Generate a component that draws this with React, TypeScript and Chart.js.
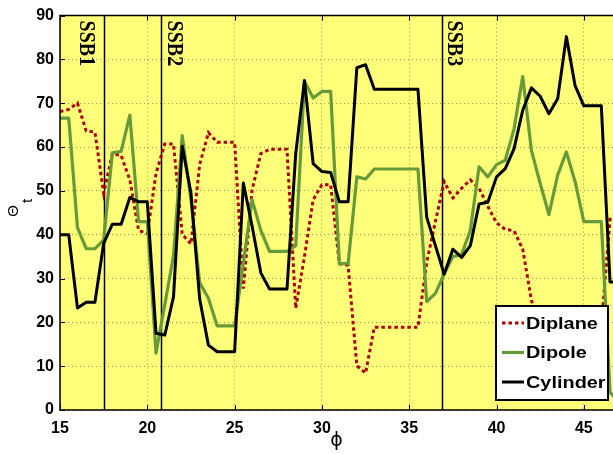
import React, { useEffect, useRef } from "react";
import { Chart, registerables } from "chart.js";

Chart.register(...registerables);

// ---- data ----
const phi = [
  15, 15.5, 16, 16.5, 17, 17.5, 18, 18.5, 19, 19.5,
  20, 20.5, 21, 21.5, 22, 22.5, 23, 23.5, 24, 24.5,
  25, 25.5, 26, 26.5, 27, 27.5, 28, 28.5, 29, 29.5,
  30, 30.5, 31, 31.5, 32, 32.5, 33, 33.5, 34, 34.5,
  35, 35.5, 36, 36.5, 37, 37.5, 38, 38.5, 39, 39.5,
  40, 40.5, 41, 41.5, 42, 42.5, 43, 43.5, 44, 44.5,
  45, 45.5, 46, 46.5, 47,
];

const diplane = [
  68.1, 68.6, 70, 63.7, 63.4, 49.5, 58.5, 58.1, 52.5, 41,
  40.2, 54, 60.7, 60.7, 40.1, 37.9, 56, 63.3, 61.1, 61.1,
  61.1, 27.7, 50.2, 58.5, 59.5, 59.5, 59.5, 23.2, 35, 48,
  51.4, 51.4, 33.4, 33, 10.1, 8.4, 18.9, 18.9, 18.9, 18.9,
  18.9, 18.9, 33.7, 43, 52.1, 48.4, 50.6, 52.5, 50.6, 46.5,
  42.7, 41.2, 40.9, 36.7, 25, 19, 19, 19, 19, 19,
  19, 19, 19, 43.5, 43.5,
];

const dipole = [
  66.6, 66.6, 41.6, 36.8, 36.8, 38.8, 58.7, 59, 67.3, 43,
  43, 13, 24, 35.2, 62.6, 48, 29, 25.5, 19.2, 19.2,
  19.2, 33.5, 48, 41, 36.2, 36.2, 36.2, 37.5, 75, 71.2,
  72.7, 72.7, 33.4, 33.4, 53.2, 52.7, 55, 55, 55, 55,
  55, 55, 24.7, 26.6, 31, 35, 35.5, 41, 55.5, 53.2,
  56, 57, 64.1, 76.1, 59.2, 51.7, 44.6, 53.6, 58.9, 52.1,
  43, 43, 43, 4, 2,
];

const cylinder = [
  40, 40, 23.3, 24.6, 24.6, 38, 42.4, 42.4, 48.5, 47.5,
  47.5, 17.5, 17.1, 25.8, 60.2, 49.5, 25.3, 14.8, 13.3, 13.3,
  13.3, 51.8, 42, 31.3, 27.6, 27.6, 27.6, 58.5, 75.2, 56.2,
  54.4, 54.2, 47.5, 47.5, 78.1, 78.8, 73.2, 73.2, 73.2, 73.2,
  73.2, 73.2, 44, 37.5, 31, 36.7, 34.8, 37.5, 47, 47.4,
  53.2, 55.1, 59.6, 68.4, 73.5, 71.6, 67.6, 71, 85.2, 74,
  69.4, 69.4, 69.4, 29.2, 29.2,
];

const seriesNames = ["Diplane", "Dipole", "Cylinder"];
const ssbNames = ["SSB1", "SSB2", "SSB3"];
const ssbPhi = [17.5, 20.8, 36.85];
const ssbLabelPhi = [16.15, 21.2, 37.22];
const xTicks = [15, 20, 25, 30, 35, 40, 45];
const yTicks = [0, 10, 20, 30, 40, 50, 60, 70, 80, 90];
const xMin = 15;
const xMax = 46.67;
const yMin = 0;
const yMax = 90;

const SANS = "'Liberation Sans', Arial, Helvetica, sans-serif";
const SERIF = "'Liberation Serif', 'Times New Roman', serif";

export default function App() {
  const ref = useRef<HTMLCanvasElement | null>(null);

  useEffect(() => {
    const canvas = ref.current;
    if (!canvas) return;

    const overlay = {
      id: "overlay",
      beforeDraw(chart: any) {
        const { ctx, chartArea: a } = chart;
        ctx.save();
        ctx.fillStyle = "#ffffff";
        ctx.fillRect(0, 0, chart.width, chart.height);
        ctx.fillStyle = "#ffff7a";
        ctx.fillRect(a.left, a.top, a.right - a.left, a.bottom - a.top);
        ctx.restore();
      },
      beforeDatasetsDraw(chart: any) {
        const { ctx, chartArea: a } = chart;
        const xs = chart.scales.x;
        ctx.save();
        ctx.strokeStyle = "#000";
        ctx.lineWidth = 1.5;
        ssbPhi.forEach((v) => {
          const px = Math.round(xs.getPixelForValue(v)) + 0.5;
          ctx.beginPath();
          ctx.moveTo(px, a.top);
          ctx.lineTo(px, a.bottom);
          ctx.stroke();
        });
        ctx.restore();
      },
      afterDatasetsDraw(chart: any) {
        const { ctx, chartArea: a } = chart;
        const xs = chart.scales.x;
        ctx.save();
        ctx.fillStyle = "#000";
        ctx.font = `bold 20px ${SERIF}`;
        ctx.textAlign = "left";
        ctx.textBaseline = "alphabetic";
        ssbNames.forEach((n, i) => {
          const px = xs.getPixelForValue(ssbLabelPhi[i]);
          ctx.save();
          ctx.translate(px, a.top + 5);
          ctx.rotate(Math.PI / 2);
          ctx.scale(1, 1.12);
          ctx.fillText(n, 0, 0);
          ctx.restore();
        });
        ctx.restore();
      },
      afterDraw(chart: any) {
        const { ctx, chartArea: a } = chart;
        const xs = chart.scales.x;
        const ys = chart.scales.y;
        ctx.save();
        // frame
        ctx.strokeStyle = "#000";
        ctx.lineWidth = 1.5;
        ctx.beginPath();
        ctx.moveTo(a.right + 2, a.top);
        ctx.lineTo(a.left, a.top);
        ctx.lineTo(a.left, a.bottom);
        ctx.lineTo(a.right + 2, a.bottom);
        ctx.stroke();
        // inward ticks
        ctx.lineWidth = 1;
        xTicks.forEach((v) => {
          const px = Math.round(xs.getPixelForValue(v)) + 0.5;
          ctx.beginPath();
          ctx.moveTo(px, a.bottom);
          ctx.lineTo(px, a.bottom - 5);
          ctx.moveTo(px, a.top);
          ctx.lineTo(px, a.top + 5);
          ctx.stroke();
        });
        yTicks.forEach((v) => {
          const py = Math.round(ys.getPixelForValue(v)) + 0.5;
          ctx.beginPath();
          ctx.moveTo(a.left, py);
          ctx.lineTo(a.left + 5, py);
          ctx.stroke();
        });

        // legend
        const bw = 112;
        const bh = 94;
        const bx = a.right - 5 - bw;
        const by = a.bottom - 10 - bh;
        ctx.fillStyle = "#ffffff";
        ctx.fillRect(bx, by, bw, bh);
        ctx.strokeStyle = "#000";
        ctx.lineWidth = 2;
        ctx.strokeRect(bx, by, bw, bh);
        chart.data.datasets.forEach((ds: any, i: number) => {
          const ly = by + 17 + i * 29.5;
          ctx.save();
          ctx.strokeStyle = ds.borderColor;
          ctx.lineWidth = ds.borderWidth;
          ctx.setLineDash(ds.borderDash || []);
          ctx.beginPath();
          ctx.moveTo(bx + 6, ly);
          ctx.lineTo(bx + 28, ly);
          ctx.stroke();
          ctx.restore();
          ctx.save();
          ctx.fillStyle = "#000";
          ctx.font = `bold 17px ${SANS}`;
          ctx.textAlign = "left";
          ctx.textBaseline = "middle";
          ctx.translate(bx + 30, ly + 1);
          ctx.scale(1.17, 1);
          ctx.fillText(ds.label, 0, 0);
          ctx.restore();
        });

        // axis titles
        ctx.fillStyle = "#000";
        ctx.textAlign = "center";
        ctx.textBaseline = "middle";
        ctx.font = `19px 'DejaVu Sans', ${SANS}`;
        ctx.fillText("\u03D5", (a.left + a.right) / 2, 441);

        ctx.save();
        ctx.translate(18, 211);
        ctx.rotate(-Math.PI / 2);
        ctx.textBaseline = "alphabetic";
        ctx.font = `15px ${SANS}`;
        ctx.fillText("\u0398", 0, 0);
        ctx.font = `15px ${SANS}`;
        ctx.fillText("t", 10, 14);
        ctx.restore();

        ctx.restore();
      },
    };

    const mk = (arr: number[]) => phi.map((x, i) => ({ x, y: arr[i] }));

    const chart = new Chart(canvas, {
      type: "line",
      data: {
        datasets: [
          {
            label: seriesNames[0],
            data: mk(diplane),
            borderColor: "#b00000",
            borderWidth: 3,
            borderDash: [3.5, 3],
            borderCapStyle: "butt",
            pointRadius: 0,
            tension: 0,
            order: 2,
            clip: 0,
          },
          {
            label: seriesNames[1],
            data: mk(dipole),
            borderColor: "#679b3a",
            borderWidth: 3.2,
            borderJoinStyle: "round",
            pointRadius: 0,
            tension: 0,
            order: 1,
            clip: 0,
          },
          {
            label: seriesNames[2],
            data: mk(cylinder),
            borderColor: "#000000",
            borderWidth: 3,
            borderJoinStyle: "round",
            pointRadius: 0,
            tension: 0,
            order: 0,
            clip: 0,
          },
        ],
      } as any,
      options: {
        animation: false,
        responsive: false,
        devicePixelRatio: 1,
        layout: { padding: { top: 10, right: 0, left: 0, bottom: 0 } },
        plugins: {
          legend: { display: false },
          tooltip: { enabled: false },
          title: { display: false },
        },
        scales: {
          x: {
            type: "linear",
            min: xMin,
            max: xMax,
            afterBuildTicks: (s: any) => {
              s.ticks = xTicks.map((v) => ({ value: v }));
            },
            afterFit: (s: any) => {
              s.height = 44;
            },
            grid: {
              color: "rgba(90,90,70,0.6)",
              lineWidth: 1,
              drawTicks: false,
            },
            border: { display: false, dash: [1, 3] },
            ticks: {
              color: "#000",
              font: { family: SANS, size: 16, weight: "bold" },
              padding: 9,
              maxRotation: 0,
              autoSkip: false,
            },
          },
          y: {
            type: "linear",
            min: yMin,
            max: yMax,
            afterBuildTicks: (s: any) => {
              s.ticks = yTicks.map((v) => ({ value: v }));
            },
            afterFit: (s: any) => {
              s.width = 60;
            },
            grid: {
              color: "rgba(90,90,70,0.6)",
              lineWidth: 1,
              drawTicks: false,
            },
            border: { display: false, dash: [1, 3] },
            ticks: {
              color: "#000",
              font: { family: SANS, size: 16, weight: "bold" },
              padding: 6,
              autoSkip: false,
            },
          },
        },
      } as any,
      plugins: [overlay],
    });

    return () => {
      chart.destroy();
    };
  }, []);

  return (
    <div
      style={{
        position: "absolute",
        left: 0,
        top: 0,
        width: 613,
        height: 454,
        background: "#fff",
      }}
    >
      <canvas ref={ref} width={613} height={454} style={{ display: "block" }} />
    </div>
  );
}
